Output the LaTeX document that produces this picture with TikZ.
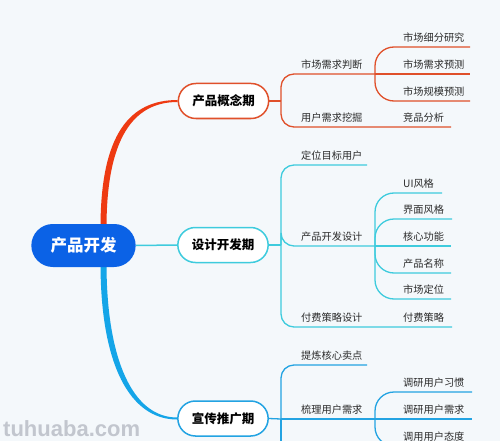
\documentclass[tikz,border=0pt]{standalone}
\usepackage{fontspec}
\usetikzlibrary{shapes.misc,calc}
\newfontfamily\cjk{Noto Sans CJK SC}
\newfontfamily\wmfont{Liberation Sans}
\definecolor{bg}{HTML}{F4F8FB}
\definecolor{rootblue}{HTML}{0B62E6}
\definecolor{cred}{HTML}{E0502A}
\definecolor{rootred}{HTML}{EE3A12}
\definecolor{ccyan}{HTML}{3ECBDD}
\definecolor{cblue}{HTML}{23A3E2}
\definecolor{rootbl}{HTML}{14A5E8}
\definecolor{txt}{HTML}{2A2A2A}
\definecolor{wm}{HTML}{C2C6CE}
\pgfdeclarelayer{bgfill}
\pgfdeclarelayer{background}
\pgfsetlayers{bgfill,background,main}
\begin{document}
\begin{tikzpicture}[x=1pt,y=-1pt,
  l1/.style={rounded rectangle, draw, line width=1.5pt, fill=white, minimum width=97pt, minimum height=35pt, font=\cjk\bfseries\fontsize{12.5}{14}\selectfont, text=black},
  lab/.style={anchor=south west, inner xsep=0pt, inner ysep=4pt, font=\cjk\fontsize{10.2}{12}\selectfont, text=txt},
  br/.style={line width=1.3pt, rounded corners=13pt},
  sb/.style={line width=1.3pt, rounded corners=19pt}]
\begin{pgfonlayer}{bgfill}
\fill[bg] (0,0) rectangle (500,441);
\end{pgfonlayer}
\useasboundingbox (0,0) rectangle (500,441);
\clip (0,0) rectangle (500,441);

% nodes
\node[rounded rectangle, fill=rootblue, minimum width=111pt, minimum height=43pt, text=white, font=\cjk\bfseries\fontsize{16.5}{18}\selectfont] (root) at (83.5,245.5) {产品开发};
\node[l1, draw=cred] (p1) at (223.5,101) {产品概念期};
\node[l1, draw=ccyan] (p2) at (223,245) {设计开发期};
\node[l1, draw=cblue] (p3) at (223,418.5) {宣传推广期};

% level 2 / 3 labels
\node[lab] (a1) at (301,74) {市场需求判断};
\node[lab] (a11) at (403,47) {市场细分研究};
\node[lab] (a12) at (403,74) {市场需求预测};
\node[lab] (a13) at (403,101) {市场规模预测};
\node[lab] (a2) at (301,127) {用户需求挖掘};
\node[lab] (a21) at (403,127) {竞品分析};

\node[lab] (b1) at (301,165) {定位目标用户};
\node[lab] (b2) at (301,246) {产品开发设计};
\node[lab] (b21) at (403,193) {UI风格};
\node[lab] (b22) at (403,219) {界面风格};
\node[lab] (b23) at (403,246) {核心功能};
\node[lab] (b24) at (403,273) {产品名称};
\node[lab] (b25) at (403,299) {市场定位};
\node[lab] (b3) at (301,327) {付费策略设计};
\node[lab] (b31) at (403,327) {付费策略};

\node[lab] (c1) at (301,365) {提炼核心卖点};
\node[lab] (c2) at (301,419) {梳理用户需求};
\node[lab] (c21) at (403,392) {调研用户习惯};
\node[lab] (c22) at (403,419) {调研用户需求};
\node[lab] (c23) at (403,446) {调用用户态度};

\node[anchor=base west, inner sep=0pt, font=\wmfont\bfseries\fontsize{22}{24}\selectfont, text=wm] (wmk) at (3,436) {tuhuaba.com};

% coordinates
\coordinate (k1) at (281,101);
\coordinate (s1) at (375,74);
\coordinate (e11) at (470,47);
\coordinate (e12) at (470,74);
\coordinate (e13) at (470,101);
\coordinate (e2) at (451,127);
\coordinate (k2) at (281,245);
\coordinate (f1) at (367,165);
\coordinate (s2) at (375,246);
\coordinate (f21) at (442,193);
\coordinate (f22) at (452,219);
\coordinate (f23) at (451,246);
\coordinate (f24) at (451,273);
\coordinate (f25) at (451,299);
\coordinate (f3) at (452,327);
\coordinate (k3) at (281,419);
\coordinate (g1) at (367,365);
\coordinate (s3) at (375,419);
\coordinate (g21) at (472,392);
\coordinate (g22) at (472,419);
\coordinate (g23) at (472,446);
\coordinate (gx) at (281,470);

\begin{pgfonlayer}{background}
% root connectors
\fill[rootred] ($(root.north)+(17,4)$) .. controls ($(root.north)+(17,-91)$) and ($(p1.west)+(-47,-1)$) .. ($(p1.west)+(0,-1)$)
  -- ($(p1.west)+(0,1)$) .. controls ($(p1.west)+(-44,1)$) and ($(root.north)+(23,-86)$) .. ($(root.north)+(23,4)$) -- cycle;
\fill[rootbl] ($(root.south)+(17,-4)$) .. controls ($(root.south)+(17,98)$) and ($(p3.west)+(-47,1)$) .. ($(p3.west)+(0,1)$)
  -- ($(p3.west)+(0,-1)$) .. controls ($(p3.west)+(-44,-1)$) and ($(root.south)+(23,93)$) .. ($(root.south)+(23,-4)$) -- cycle;
\draw[ccyan, line width=1.5pt] (root.east) -- (p2.west);

% branch 1
\draw[cred, line width=1.3pt] (p1.east) -- (k1);
\draw[cred, br] (k1) |- (s1);
\draw[cred, br] (k1) |- (e2);
\draw[cred, sb] (s1) |- (e11);
\draw[cred, sb] (s1) -- (e12);
\draw[cred, sb] (s1) |- (e13);

% branch 2
\draw[ccyan, line width=1.3pt] (p2.east) -- (k2);
\draw[ccyan, br] (k2) |- (f1);
\draw[ccyan, br] (k2) |- (s2);
\draw[ccyan, br] (k2) |- (f3);
\draw[ccyan, sb] (s2) |- (f21);
\draw[ccyan, sb] (s2) |- (f22);
\draw[ccyan, sb] (s2) -- (f23);
\draw[ccyan, sb] (s2) |- (f24);
\draw[ccyan, sb] (s2) |- (f25);

% branch 3
\draw[cblue, line width=1.3pt] (p3.east) -- (k3);
\draw[cblue, br] (k3) |- (g1);
\draw[cblue, br] (k3) -- (s3);
\draw[cblue, br] (k3) -- (gx);
\draw[cblue, sb] (s3) |- (g21);
\draw[cblue, sb] (s3) -- (g22);
\draw[cblue, sb] (s3) |- (g23);
\end{pgfonlayer}
\end{tikzpicture}
\end{document}
